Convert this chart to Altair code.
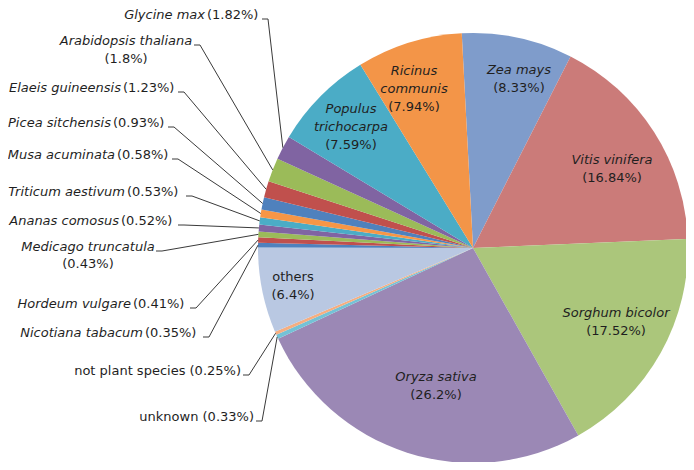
import math
import altair as alt
import pandas as pd

# ---------------- data ----------------
species = ["Zea mays", "Vitis vinifera", "Sorghum bicolor", "Oryza sativa", "unknown",
           "not plant species", "others", "Nicotiana tabacum", "Hordeum vulgare",
           "Medicago truncatula", "Ananas comosus", "Triticum aestivum", "Musa acuminata",
           "Picea sitchensis", "Elaeis guineensis", "Arabidopsis thaliana", "Glycine max",
           "Populus trichocarpa", "Ricinus communis"]
percent = [8.33, 16.84, 17.52, 26.2, 0.33, 0.25, 6.4, 0.35, 0.41, 0.43, 0.52, 0.53, 0.58,
           0.93, 1.23, 1.8, 1.82, 7.59, 7.94]
is_species = [True, True, True, True, False, False, False, True, True, True, True, True, True,
              True, True, True, True, True, True]
colors = ["#7F9CCB", "#CB7B79", "#ABC67B", "#9B88B5", "#74C2D6", "#F6AE80", "#B9C8E2",
          "#4F81BD", "#C0504D", "#9BBB59", "#8064A2", "#4BACC6", "#F79646", "#4F81BD",
          "#C0504D", "#9BBB59", "#8064A2", "#4BACC6", "#F39548"]

# ---------------- layout (page pixels) ----------------
OFF = 8                      # page margin
CX, CY, R = 473 - OFF, 248 - OFF, 215
START = 2 * math.pi - math.radians(3)   # pie start angle (slightly before 12 o'clock)
FONT = "DejaVu Sans"
FS = 13
TXT = "#1f1f1f"
LINE = "#3a3a3a"

# labels outside the pie, single line: name ends at split, percent after it; leader starts at end
outside_single = {
    "Glycine max": (205, 15, 262),
    "Elaeis guineensis": (121, 88, 178),
    "Picea sitchensis": (111, 123, 168),
    "Musa acuminata": (115, 155, 172),
    "Triticum aestivum": (125, 192, 186),
    "Ananas comosus": (119, 221, 178),
    "Hordeum vulgare": (131, 304, 190),
    "Nicotiana tabacum": (143, 333, 203),
    "not plant species": (None, 371, 243),
    "unknown": (None, 417, 256),
}
# labels outside, two centred lines: centre x, y line1, y line2, leader start x, leader y
outside_double = {
    "Arabidopsis thaliana": (126, 41, 59, 194, 45),
    "Medicago truncatula": (88, 247, 264, 156, 251),
}
# labels inside slices: centre x, first line y
inside = {
    "Zea mays": (519, 70, ["Zea mays"]),
    "Vitis vinifera": (612, 160, ["Vitis vinifera"]),
    "Sorghum bicolor": (616, 313, ["Sorghum bicolor"]),
    "Oryza sativa": (436, 377, ["Oryza sativa"]),
    "others": (293, 277, ["others"]),
    "Populus trichocarpa": (351, 109, ["Populus", "trichocarpa"]),
    "Ricinus communis": (414, 71, ["Ricinus", "communis"]),
}
LINE_GAP = 18

# ---------------- build tables ----------------
total = sum(percent)
df = pd.DataFrame({"idx": range(len(species)), "species": species, "value": percent})

pct_label = {s: f"({p:g}%)" for s, p in zip(species, percent)}
italic_of = dict(zip(species, is_species))

# mid angle edge points for leader lines
edge = {}
cum = 0.0
for s, p in zip(species, percent):
    mid = cum + p / 2
    a = START + 2 * math.pi * mid / total
    edge[s] = (CX + R * math.sin(a), CY - R * math.cos(a))
    cum += p

rows_it_right, rows_pct_left, rows_plain_right = [], [], []
rows_center_it, rows_center_plain = [], []
lead_rows = []

for s, (split, y, end) in outside_single.items():
    if split is None:
        rows_plain_right.append({"x": end - 2 - OFF, "y": y - OFF, "t": f"{s} {pct_label[s]}"})
    else:
        rows_it_right.append({"x": split - OFF, "y": y - OFF, "t": s})
        rows_pct_left.append({"x": split + 2 - OFF, "y": y - OFF, "t": pct_label[s]})
    by = y + 4 - OFF
    ex, ey = edge[s]
    lead_rows += [{"s": s, "o": 0, "x": end - OFF, "y": by},
                  {"s": s, "o": 1, "x": end + 6 - OFF, "y": by},
                  {"s": s, "o": 2, "x": ex, "y": ey}]

for s, (cx, y1, y2, lx, ly) in outside_double.items():
    rows_center_it.append({"x": cx - OFF, "y": y1 - OFF, "t": s})
    rows_center_plain.append({"x": cx - OFF, "y": y2 - OFF, "t": pct_label[s]})
    ex, ey = edge[s]
    lead_rows += [{"s": s, "o": 0, "x": lx - OFF, "y": ly - OFF},
                  {"s": s, "o": 1, "x": lx + 6 - OFF, "y": ly - OFF},
                  {"s": s, "o": 2, "x": ex, "y": ey}]

for s, (cx, y, lines) in inside.items():
    for i, ln in enumerate(lines):
        target = rows_center_it if italic_of[s] else rows_center_plain
        target.append({"x": cx - OFF, "y": y + i * LINE_GAP - OFF, "t": ln})
    rows_center_plain.append({"x": cx - OFF, "y": y + len(lines) * LINE_GAP - OFF, "t": pct_label[s]})

# ---------------- chart ----------------
pie = alt.Chart(df).mark_arc(radius=R).encode(
    theta=alt.Theta("value:Q", stack=True,
                    scale=alt.Scale(domain=[0, total], range=[START, START + 2 * math.pi])),
    color=alt.Color("species:N", scale=alt.Scale(domain=species, range=colors), legend=None),
    order=alt.Order("idx:Q"),
    x=alt.value(CX), y=alt.value(CY),
)

leaders = alt.Chart(pd.DataFrame(lead_rows)).mark_line(color=LINE, strokeWidth=1).encode(
    x=alt.X("x:Q", scale=None, axis=None),
    y=alt.Y("y:Q", scale=None, axis=None),
    detail="s:N",
    order="o:Q",
)


def text_layer(rows, align, style):
    return alt.Chart(pd.DataFrame(rows)).mark_text(
        align=align, baseline="middle", font=FONT, fontSize=FS, fontStyle=style, color=TXT
    ).encode(
        x=alt.X("x:Q", scale=None, axis=None),
        y=alt.Y("y:Q", scale=None, axis=None),
        text="t:N",
    )


chart = alt.layer(
    pie,
    leaders,
    text_layer(rows_it_right, "right", "italic"),
    text_layer(rows_pct_left, "left", "normal"),
    text_layer(rows_plain_right, "right", "normal"),
    text_layer(rows_center_it, "center", "italic"),
    text_layer(rows_center_plain, "center", "normal"),
).properties(
    width=678, height=454, autosize="none", padding=0
).configure_view(stroke=None)

chart.save("out.html", embed_options={"renderer": "svg", "actions": False})
